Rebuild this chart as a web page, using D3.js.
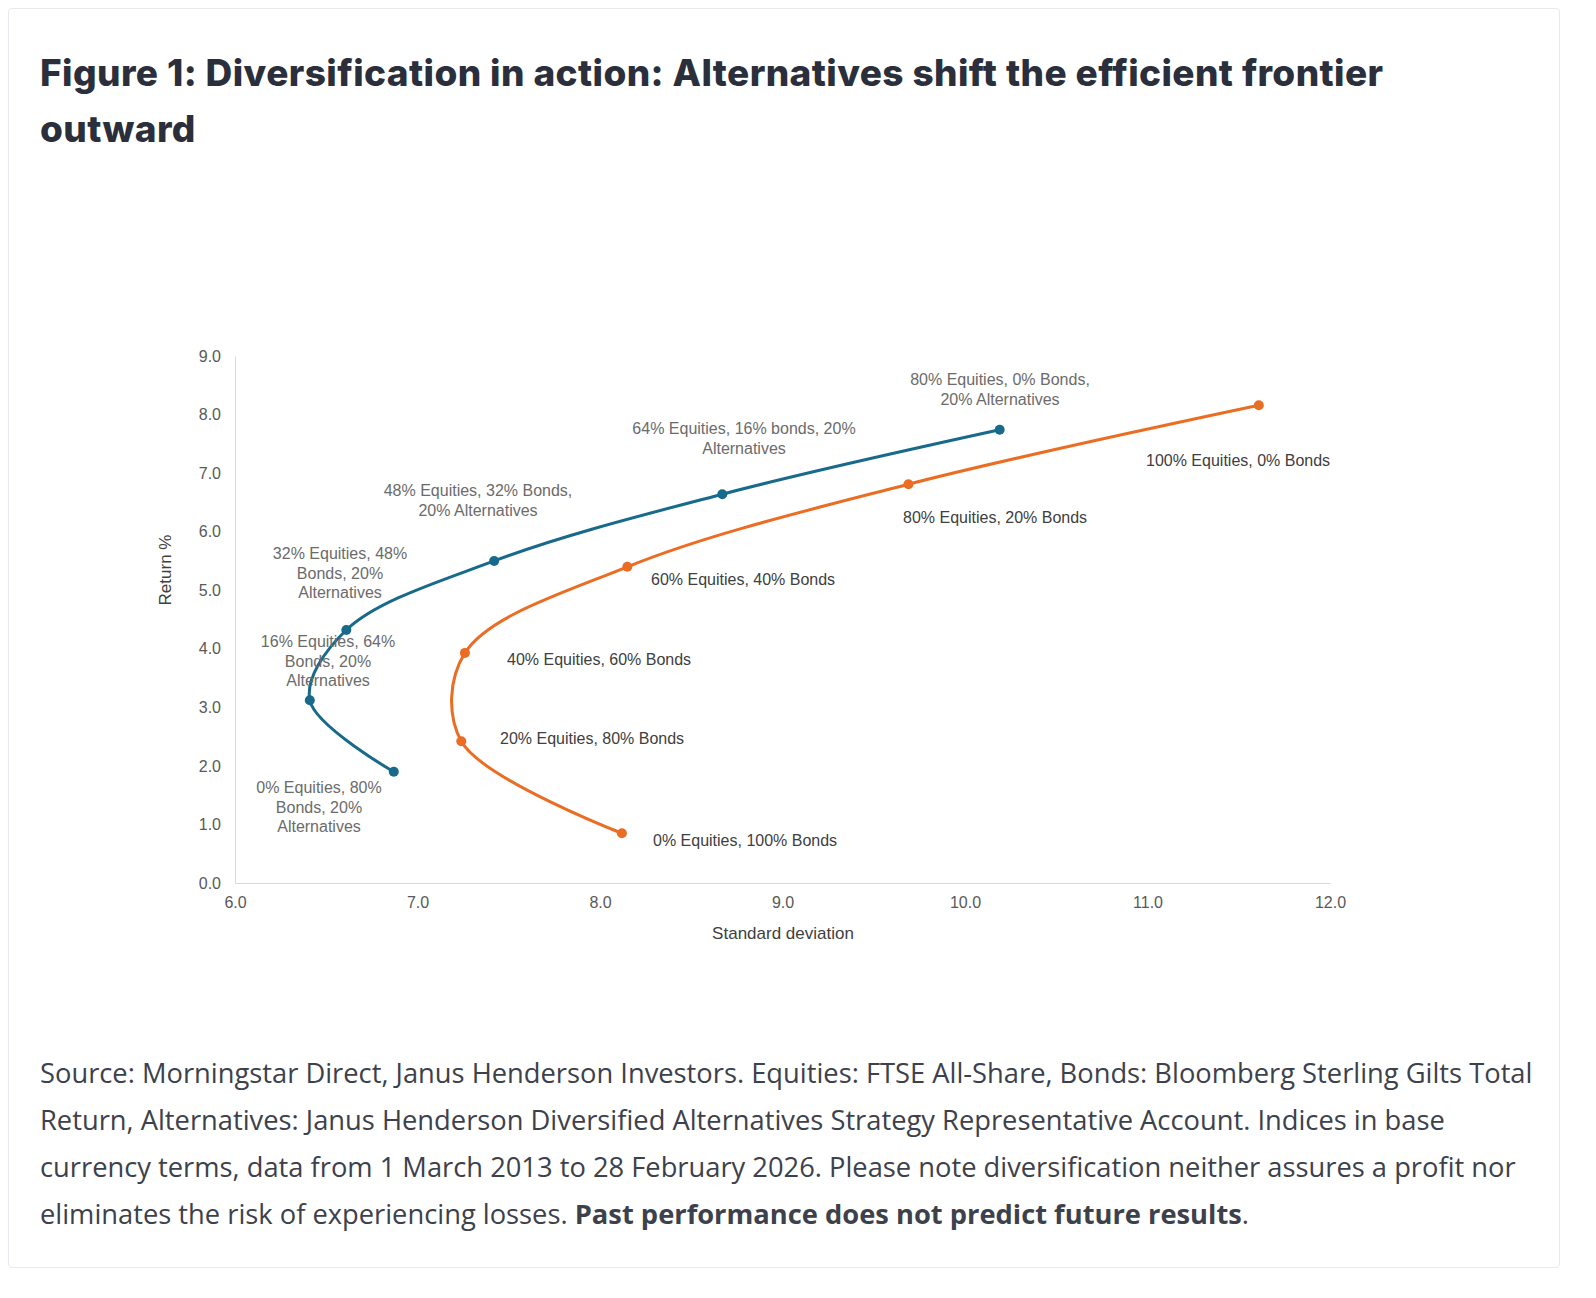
<!DOCTYPE html>
<html><head><meta charset="utf-8">
<script src="https://cdn.jsdelivr.net/npm/d3@7"></script>
<style>
body{margin:0;background:#fff;}
#card{position:absolute;left:8px;top:8px;width:1550px;height:1258px;border:1px solid #e6e9ee;border-radius:4px;background:#fff;}
h1{position:absolute;left:31px;top:36px;margin:0;width:1440px;font-family:Inter,'Noto Sans',sans-serif;font-weight:800;font-size:37px;line-height:56px;color:#2b2f3b;letter-spacing:0.4px;}
#foot{position:absolute;left:31px;top:1040px;width:1500px;font-family:'Open Sans',sans-serif;font-size:27.3px;line-height:47px;color:#3d414b;}
svg{position:absolute;left:0;top:0;}
</style></head><body>
<div id="card">
<h1>Figure 1: Diversification in action: Alternatives shift the efficient frontier outward</h1>
<div id="foot">Source: Morningstar Direct, Janus Henderson Investors. Equities: FTSE All-Share, Bonds: Bloomberg Sterling Gilts Total Return, Alternatives: Janus Henderson Diversified Alternatives Strategy Representative Account. Indices in base currency terms, data from 1 March 2013 to 28 February 2026. Please note diversification neither assures a profit nor eliminates the risk of experiencing losses. <b>Past performance does not predict future results</b>.</div>
</div>
<svg id="c" width="1596" height="1298"></svg>
<script>
const xTicks=[6,7,8,9,10,11,12];
const yTicks=[0,1,2,3,4,5,6,7,8,9];
const altSD=[6.87,6.41,6.61,7.42,8.67,10.19];
const altRet=[1.90,3.12,4.32,5.50,6.64,7.74];
const altLabels=[["0% Equities, 80%","Bonds, 20%","Alternatives"],["16% Equities, 64%","Bonds, 20%","Alternatives"],["32% Equities, 48%","Bonds, 20%","Alternatives"],["48% Equities, 32% Bonds,","20% Alternatives"],["64% Equities, 16% bonds, 20%","Alternatives"],["80% Equities, 0% Bonds,","20% Alternatives"]];
const eqSD=[8.12,7.24,7.26,8.15,9.69,11.61];
const eqRet=[0.85,2.42,3.93,5.40,6.81,8.16];
const eqLabels=["0% Equities, 100% Bonds","20% Equities, 80% Bonds","40% Equities, 60% Bonds","60% Equities, 40% Bonds","80% Equities, 20% Bonds","100% Equities, 0% Bonds"];

const svg=d3.select("#c");
const x=d3.scaleLinear().domain([6,12]).range([235,1330]);
const y=d3.scaleLinear().domain([0,9]).range([883,356]);
const f="'Liberation Sans',Arial,sans-serif";
svg.append("g").attr("transform","translate(0,883)").call(d3.axisBottom(x).tickValues(xTicks).tickFormat(d3.format(".1f")).tickSize(0).tickPadding(14))
 .call(g=>{g.select(".domain").attr("stroke","#d9d9d9");g.selectAll("text").attr("font-family",f).attr("font-size",16).attr("fill","#595959");});
svg.append("g").attr("transform","translate(235,0)").call(d3.axisLeft(y).tickValues(yTicks).tickFormat(d3.format(".1f")).tickSize(0).tickPadding(14))
 .call(g=>{g.select(".domain").attr("stroke","#d9d9d9");g.selectAll("text").attr("font-family",f).attr("font-size",16).attr("fill","#595959");});
svg.append("text").attr("x",783).attr("y",939).attr("text-anchor","middle").attr("font-family",f).attr("font-size",17).attr("fill","#404040").text("Standard deviation");
svg.append("text").attr("transform","translate(171,570) rotate(-90)").attr("text-anchor","middle").attr("font-family",f).attr("font-size",17).attr("fill","#404040").text("Return %");

const line=d3.line().x(d=>x(d[0])).y(d=>y(d[1])).curve(d3.curveCatmullRom.alpha(0.5));
function series(sd,ret,col){
  const pts=sd.map((s,i)=>[s,ret[i]]);
  svg.append("path").attr("d",line(pts)).attr("fill","none").attr("stroke",col).attr("stroke-width",3);
  svg.selectAll(null).data(pts).enter().append("circle").attr("cx",d=>x(d[0])).attr("cy",d=>y(d[1])).attr("r",5).attr("fill",col);
}
series(altSD,altRet,"#176a8a");
series(eqSD,eqRet,"#ea6d23");

const altPos=[[319,793],[328,647],[340,559],[478,496],[744,434],[1000,385]];
altLabels.forEach((l,i)=>{
  const t=svg.append("text").attr("text-anchor","middle").attr("font-family",f).attr("font-size",16).attr("fill","#6b6b6b");
  l.forEach((s,j)=>t.append("tspan").attr("x",altPos[i][0]).attr("y",altPos[i][1]+j*19.5).text(s));
});
const eqPos=[[653,846],[500,744],[507,665],[651,585],[903,523],[1146,466]];
eqLabels.forEach((l,i)=>svg.append("text").attr("x",eqPos[i][0]).attr("y",eqPos[i][1]).attr("font-family",f).attr("font-size",16).attr("fill","#404040").text(l));
</script>
</body></html>
